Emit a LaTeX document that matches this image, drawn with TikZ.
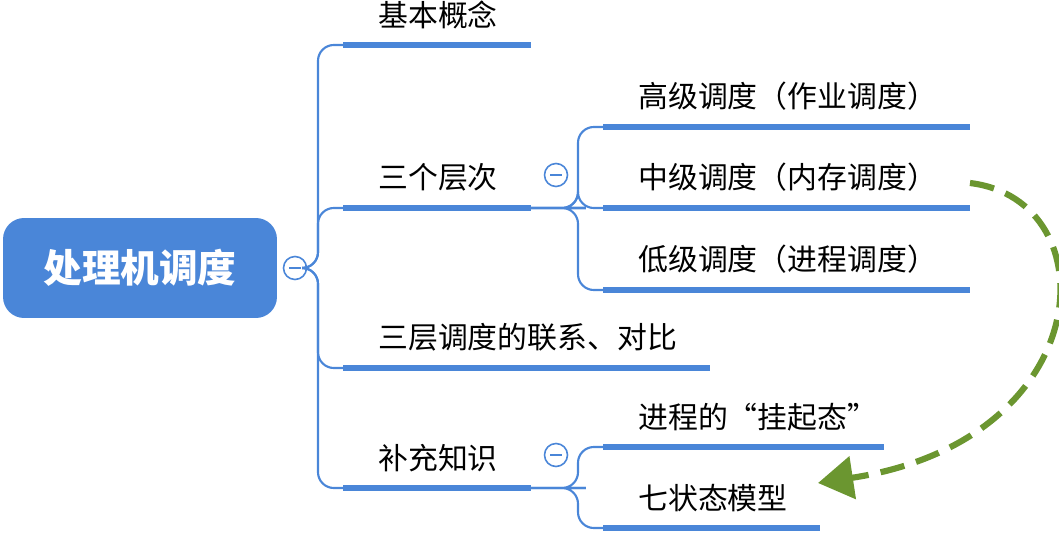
\documentclass[tikz,border=0pt]{standalone}
\usepackage{fontspec}
\setmainfont{Noto Sans CJK SC}
\usetikzlibrary{arrows.meta}
\definecolor{mapblue}{RGB}{74,134,216}
\definecolor{arrowgreen}{RGB}{107,150,48}
\tikzset{
  topic/.style={anchor=south west,inner sep=0pt,font=\fontsize{17pt}{19pt}\selectfont},
  bar/.style={mapblue,line width=3.4pt},
  link/.style={mapblue,line width=1.2pt,rounded corners=9},
  fold/.style={circle,draw=mapblue,line width=0.9pt,fill=white,minimum size=0.46cm,inner sep=0pt}
}
\begin{document}
\begin{tikzpicture}[x=0.02cm,y=-0.02cm]
    \useasboundingbox (0,0) rectangle (1059,537);

    % root
    \node[fill=mapblue,rounded corners=12pt,minimum width=5.48cm,minimum height=2cm,
          text=white,font=\fontsize{22pt}{25pt}\selectfont\bfseries] (root) at (140,268) {处理机调度};
    \node[fold] (f0) at (295,268) {};
    \draw[mapblue,line width=1.1pt] (289,268) -- (301,268);

    % first level
    \foreach \name/\y/\len/\txt in {basic/45/531/基本概念, level/208/531/三个层次,
                                    link3/368/710/三层调度的联系、对比, extra/488/531/补充知识}{
        \coordinate (\name-a) at (343,\y);
        \coordinate (\name-b) at (\len,\y);
        \draw[bar] (\name-a) -- (\name-b);
        \node[topic] (\name) at (378,\y-16) {\txt};
        \draw[link] (f0.east) -| (318,\y) -- (\name-a);
    }

    % second level: three levels
    \node[fold] (f1) at (556,175) {};
    \draw[mapblue,line width=1.1pt] (550,175) -- (562,175);
    \foreach \name/\y/\len/\txt in {high/127/970/高级调度（作业调度）, mid/208/970/中级调度（内存调度）,
                                    low/290/970/低级调度（进程调度）}{
        \coordinate (\name-a) at (603,\y);
        \coordinate (\name-b) at (\len,\y);
        \draw[bar] (\name-a) -- (\name-b);
        \node[topic] (\name) at (638,\y-16) {\txt};
        \draw[link] (level-b) -- (570,208) -- (578,208) |- (\name-a);
    }

    % second level: extra knowledge
    \node[fold] (f2) at (556,455) {};
    \draw[mapblue,line width=1.1pt] (550,455) -- (562,455);
    \foreach \name/\y/\len/\txt in {susp/447/884/进程的“挂起态”, seven/528/820/七状态模型}{
        \coordinate (\name-a) at (603,\y);
        \coordinate (\name-b) at (\len,\y);
        \draw[bar] (\name-a) -- (\name-b);
        \node[topic] (\name) at (638,\y-16) {\txt};
        \draw[link] (extra-b) -- (570,488) -- (578,488) |- (\name-a);
    }

    % relation
    \draw[arrowgreen,line width=3.5pt,dash pattern=on 14pt off 7pt,-{Triangle[length=20pt,width=24pt]}]
        (mid-b |- 0,183) .. controls (1110,200) and (1100,440) .. (818,483);
\end{tikzpicture}
\end{document}
